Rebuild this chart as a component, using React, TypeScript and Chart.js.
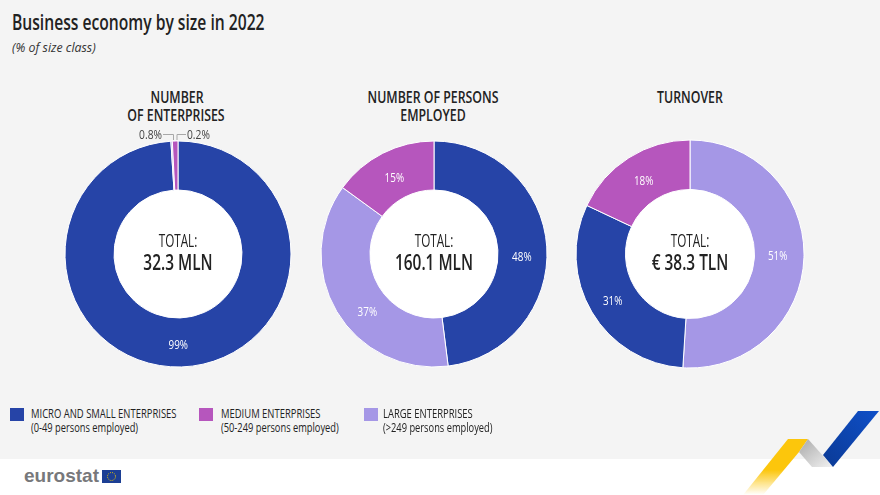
import React, { useEffect, useRef } from "react";
import { Chart, registerables } from "chart.js";

Chart.register(...registerables);

const BLUE = "#2644a7";
const PURPLE = "#b656bd";
const LIGHT = "#a597e6";
const FONT = '"Open Sans", sans-serif';

const enterpriseLabels = ["Micro and small", "Large", "Medium"];
const enterpriseValues = [99, 0.2, 0.8];
const personsLabels = ["Micro and small", "Large", "Medium"];
const personsValues = [48, 37, 15];
const turnoverLabels = ["Large", "Micro and small", "Medium"];
const turnoverValues = [51, 31, 18];

const panels = [
  { cx: 177.5, cy: 254, r: 113, inner: 64, labels: enterpriseLabels, values: enterpriseValues, colors: [BLUE, LIGHT, PURPLE], total: "32.3 MLN", leaders: true, nudge: [[-2, 3], [0, 0], [0, 0]] },
  { cx: 433.5, cy: 254, r: 113, inner: 64, labels: personsLabels, values: personsValues, colors: [BLUE, LIGHT, PURPLE], total: "160.1 MLN", leaders: false, nudge: [[0, 9], [10, 13], [1, 3]] },
  { cx: 689.5, cy: 254, r: 114, inner: 64.5, labels: turnoverLabels, values: turnoverValues, colors: [LIGHT, BLUE, PURPLE], total: "€ 38.3 TLN", leaders: false, nudge: [[-1, -1], [0, 2], [2, 3]] },
];

const SIZE = 260;

function squeezed(ctx: any, text: string, x: number, y: number, font: string, sx: number, align: string) {
  ctx.save();
  ctx.translate(x, y);
  ctx.scale(sx, 1);
  ctx.font = font;
  ctx.textAlign = align;
  ctx.textBaseline = "middle";
  ctx.fillText(text, 0, 0);
  ctx.restore();
}

function Donut({ p }: { p: (typeof panels)[number] }) {
  const ref = useRef<HTMLCanvasElement>(null);
  useEffect(() => {
    const plugin = {
      id: "decor",
      beforeDatasetsDraw(c: any) {
        const ctx = c.ctx;
        const a = c.getDatasetMeta(0).data[0];
        ctx.save();
        ctx.fillStyle = "#ffffff";
        ctx.beginPath();
        ctx.arc(a.x, a.y, p.inner, 0, Math.PI * 2);
        ctx.fill();
        ctx.restore();
      },
      afterDatasetsDraw(c: any) {
        const ctx = c.ctx;
        const meta = c.getDatasetMeta(0);
        const cx = meta.data[0].x;
        const cy = meta.data[0].y;
        ctx.save();
        meta.data.forEach((arc: any, i: number) => {
          const v = p.values[i];
          if (v < 5) return;
          const mid = (arc.startAngle + arc.endAngle) / 2;
          const rr = (p.r + p.inner) / 2;
          ctx.fillStyle = "#ffffff";
          squeezed(ctx, `${v}%`, cx + Math.cos(mid) * rr - 0.5 + p.nudge[i][0], cy + Math.sin(mid) * rr + p.nudge[i][1], `400 13px ${FONT}`, 0.76, "center");
        });
        ctx.fillStyle = "#222222";
        squeezed(ctx, "TOTAL:", cx, cy - 12.5, `400 18px ${FONT}`, 0.65, "center");
        squeezed(ctx, p.total, cx, cy + 10, `600 22px ${FONT}`, 0.7, "center");
        if (p.leaders) {
          ctx.strokeStyle = "#a8a8a8";
          ctx.lineWidth = 1;
          ctx.beginPath();
          ctx.moveTo(cx - 15, cy - 119.5);
          ctx.lineTo(cx - 4.5, cy - 119.5);
          ctx.lineTo(cx - 4.5, cy - 114);
          ctx.moveTo(cx + 8, cy - 119.5);
          ctx.lineTo(cx - 1, cy - 119.5);
          ctx.lineTo(cx - 1, cy - 114);
          ctx.stroke();
          ctx.fillStyle = "#444444";
          squeezed(ctx, `${p.values[2]}%`, cx - 16, cy - 119, `400 12.5px ${FONT}`, 0.82, "right");
          squeezed(ctx, `${p.values[1]}%`, cx + 9, cy - 119, `400 12.5px ${FONT}`, 0.82, "left");
        }
        ctx.restore();
      },
    };
    const cutout = `${(p.inner / p.r) * 100}%`;
    const chart = new Chart(ref.current!, {
      type: "doughnut",
      data: {
        labels: p.labels,
        datasets: [
          {
            data: p.values,
            backgroundColor: p.colors,
            borderColor: "#ffffff",
            borderWidth: 1,
          },
        ],
      },
      options: {
        animation: false,
        responsive: false,
        radius: p.r,
        cutout,
        layout: { padding: 0 },
        plugins: { legend: { display: false }, tooltip: { enabled: false } },
      } as any,
      plugins: [plugin as any],
    });
    return () => chart.destroy();
  }, []);
  return (
    <canvas
      ref={ref}
      width={SIZE}
      height={SIZE}
      style={{ position: "absolute", left: p.cx - SIZE / 2, top: p.cy - SIZE / 2, width: SIZE, height: SIZE }}
    />
  );
}

function T({ x, y, size, children, weight, italic, color, align, sx, family }: any) {
  const center = align === "center";
  return (
    <div
      style={{
        position: "absolute",
        left: center ? x - 200 : x,
        width: center ? 400 : undefined,
        top: y - size,
        height: size * 2,
        lineHeight: `${size * 2}px`,
        fontSize: size,
        fontFamily: family || FONT,
        fontWeight: weight || 400,
        fontStyle: italic ? "italic" : "normal",
        color: color || "#222222",
        textAlign: center ? "center" : "left",
        whiteSpace: "nowrap",
        transform: `scaleX(${sx || 0.72})`,
        transformOrigin: center ? "center" : "left",
      }}
    >
      {children}
    </div>
  );
}

const legendItems = [
  { x: 10, tx: 31, color: BLUE, name: "MICRO AND SMALL ENTERPRISES", sub: "(0-49 persons employed)" },
  { x: 199, tx: 221, color: PURPLE, name: "MEDIUM ENTERPRISES", sub: "(50-249 persons employed)" },
  { x: 364, tx: 383, color: LIGHT, name: "LARGE ENTERPRISES", sub: "(>249 persons employed)" },
];

export default function App() {
  return (
    <div style={{ position: "fixed", left: 0, top: 0, width: 880, height: 495, background: "#ffffff", overflow: "hidden" }}>
      <div style={{ position: "absolute", left: 0, top: 0, width: 880, height: 459, background: "#f4f4f4" }} />
      <T x={12} y={22} size={21} weight={600} sx={0.745}>Business economy by size in 2022</T>
      <T x={12} y={47} size={13} italic color="#333333" sx={0.95}>(% of size class)</T>

      <T x={177} y={97} size={16} weight={600} align="center" sx={0.77}>NUMBER</T>
      <T x={176} y={115} size={16} weight={600} align="center" sx={0.77}>OF ENTERPRISES</T>
      <T x={433} y={97} size={16} weight={600} align="center" sx={0.77}>NUMBER OF PERSONS</T>
      <T x={433} y={115} size={16} weight={600} align="center" sx={0.77}>EMPLOYED</T>
      <T x={690} y={97} size={16} weight={600} align="center" sx={0.77}>TURNOVER</T>

      {panels.map((p, i) => <Donut key={i} p={p} />)}

      {legendItems.map((l, i) => (
        <React.Fragment key={i}>
          <div style={{ position: "absolute", left: l.x, top: 408, width: 14, height: 13, background: l.color }} />
          <T x={l.tx} y={413} size={13.5} sx={0.7}>{l.name}</T>
          <T x={l.tx} y={427} size={13} sx={0.715}>{l.sub}</T>
        </React.Fragment>
      ))}

      <T x={24} y={476} size={19} weight={700} color="#77787b" family='"Liberation Sans", sans-serif' sx={1}>eurostat</T>
      <svg width={880} height={495} style={{ position: "absolute", left: 0, top: 0 }}>
        <defs>
          <linearGradient id="y" x1="0" y1="0" x2="0" y2="1">
            <stop offset="0" stopColor="#fcc60c" />
            <stop offset="0.55" stopColor="#fcc60c" />
            <stop offset="1" stopColor="#fcc60c" stopOpacity="0" />
          </linearGradient>
          <linearGradient id="g" x1="0" y1="0" x2="1" y2="1">
            <stop offset="0" stopColor="#a9a9a9" />
            <stop offset="1" stopColor="#f2f2f2" />
          </linearGradient>
          <linearGradient id="b" x1="1" y1="0" x2="0" y2="1">
            <stop offset="0" stopColor="#0f4fc8" />
            <stop offset="1" stopColor="#0b3a95" />
          </linearGradient>
        </defs>
        <polygon points="788,439 808,439 799,452 763,495 743,495" fill="url(#y)" />
        <polygon points="808,439 799,452 812,467 833,467" fill="url(#g)" />
        <polygon points="858,411 879,411 833,467 823,455" fill="url(#b)" />
        <rect x={102} y={470} width={19} height={13} fill="#1c3f94" />
        <circle cx={111.5} cy={476.5} r={4} fill="none" stroke="#f5d000" strokeWidth={1} strokeDasharray="1 1.1" />
      </svg>
    </div>
  );
}
